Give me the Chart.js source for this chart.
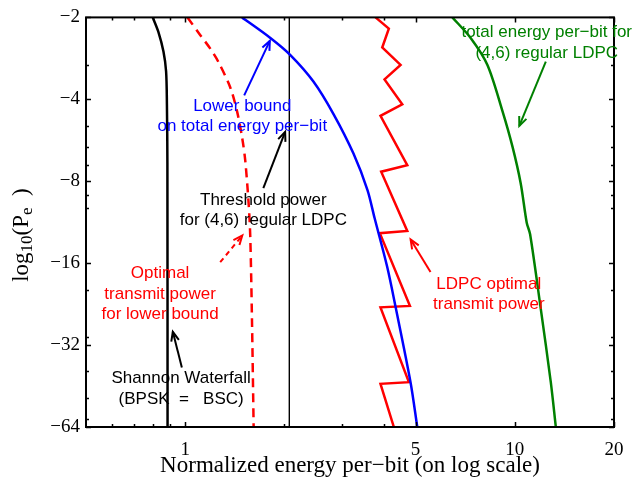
<!DOCTYPE html>
<html>
<head>
<meta charset="utf-8">
<script src="https://cdn.jsdelivr.net/npm/chart.js@4.4.1/dist/chart.umd.min.js"></script>
<style>
html, body { margin: 0; padding: 0; background: #fff; }
#wrap { width: 636px; height: 481px; }
</style>
</head>
<body>
<div id="wrap"><canvas id="chart" width="636" height="481"></canvas></div>
<script>
// ---------- data (x: normalized energy per-bit, y: log10(Pe)) ----------
const shannonX = [0.797, 0.829, 0.859, 0.875, 0.880, 0.883, 0.884];
const shannonY = [-2, -2.26, -2.67, -3.16, -4.17, -6.88, -64];

const optLowerX = [1.016, 1.11, 1.19, 1.26, 1.37, 1.436, 1.487, 1.521, 1.557, 1.575, 1.594, 1.613];
const optLowerY = [-2, -2.32, -2.6, -2.91, -3.62, -4.42, -5.49, -6.71, -9.61, -12.66, -25.5, -64];

const lowerBoundX = [1.487, 1.813, 2.085, 2.449, 2.818, 3.24, 3.573, 3.753, 4.10, 4.346, 4.828, 5.06];
const lowerBoundY = [-2, -2.38, -2.75, -3.44, -4.53, -6.33, -8.62, -10.9, -16.5, -23.1, -43.9, -64];

const ldpcPowerX = [3.779, 4.148, 3.961, 4.502, 4.025, 4.556, 3.913, 4.718, 3.932, 4.718, 3.895, 4.805, 3.913, 4.771, 3.913, 4.296];
const ldpcPowerY = [-2, -2.2, -2.58, -2.99, -3.38, -4.17, -4.6, -6.98, -7.38, -12.18, -12.42, -22.97, -23.25, -43.8, -44.4, -64];

const ldpcTotalX = [6.465, 7.347, 8.26, 9.17, 9.84, 10.42, 10.87, 11.13, 12.0, 12.86, 13.32];
const ldpcTotalY = [-2, -2.38, -2.99, -4.41, -5.97, -8.13, -11.36, -12.53, -23.7, -43.8, -64];

const thresholdX = [2.07, 2.07];
const thresholdY = [-2, -64];

// ticks
const xTickLabels = [1, 5, 10, 20];
const xMinorTicks = [0.6, 0.7, 0.8, 0.9, 2, 3, 4];
const yTickLabels = [-2, -4, -8, -16, -32, -64];
const yMinorTicks = [-3, -5, -6, -7, -9, -10, -20, -30, -40, -50, -60];

// ---------- helpers ----------
function pts(xs, ys) {
    return xs.map((x, i) => ({ x: x, y: -ys[i] }));
}

// text labels and arrows, in data coordinates
const notes = [
    { lines: ["Lower bound", "on total energy per\u2212bit"], x: 1.49, y: -4.24, color: "#0000ff" },
    { lines: ["Threshold power", "for (4,6) regular LDPC"], x: 1.726, y: -9.38, color: "#000000" },
    { lines: ["total energy per\u2212bit for", "(4,6) regular LDPC"], x: 12.5, y: -2.27, color: "#008000" },
    { lines: ["LDPC optimal", "transmit power"], x: 8.34, y: -19.06, color: "#ff0000" },
    { lines: ["Optimal", "transmit power", "for lower bound"], x: 0.839, y: -17.5, color: "#ff0000" },
    { lines: ["Shannon Waterfall", "(BPSK  =   BSC)"], x: 0.972, y: -42.5, color: "#000000" }
];

const arrows = [
    { from: [1.51, -3.87], to: [1.806, -2.44], color: "#0000ff", dash: [] },
    { from: [1.726, -8.48], to: [2.01, -5.27], color: "#000000", dash: [] },
    { from: [12.42, -2.91], to: [10.32, -5.01], color: "#008000", dash: [] },
    { from: [5.55, -17.25], to: [4.83, -13.1], color: "#ff0000", dash: [] },
    { from: [1.277, -15.87], to: [1.49, -12.66], color: "#ff0000", dash: [5, 4] },
    { from: [0.977, -38.7], to: [0.917, -28.6], color: "#000000", dash: [] }
];

const serif = "'Liberation Serif', 'Times New Roman', serif";
const sans = "'Liberation Sans', Arial, sans-serif";

// ---------- frame, ticks, labels ----------
const framePlugin = {
    id: "framePlugin",
    afterDatasetsDraw(chart) {
        const ctx = chart.ctx;
        const a = chart.chartArea;
        const xs = chart.scales.x;
        const ys = chart.scales.y;

        ctx.save();
        ctx.strokeStyle = "#000";
        ctx.lineWidth = 1.5;

        // tick marks on all four sides, pointing in
        function xTick(v, len) {
            const px = Math.round(xs.getPixelForValue(v)) + 0.5;
            ctx.beginPath();
            ctx.moveTo(px, a.bottom); ctx.lineTo(px, a.bottom - len);
            ctx.moveTo(px, a.top); ctx.lineTo(px, a.top + len);
            ctx.stroke();
        }
        function yTick(v, len) {
            const py = Math.round(ys.getPixelForValue(-v)) + 0.5;
            ctx.beginPath();
            ctx.moveTo(a.left, py); ctx.lineTo(a.left + len, py);
            ctx.moveTo(a.right, py); ctx.lineTo(a.right - len, py);
            ctx.stroke();
        }
        xTickLabels.forEach(v => xTick(v, 5));
        xMinorTicks.forEach(v => xTick(v, 3));
        yTickLabels.forEach(v => yTick(v, 5));
        yMinorTicks.forEach(v => yTick(v, 3));

        ctx.lineWidth = 2;
        ctx.strokeRect(a.left, a.top, a.right - a.left, a.bottom - a.top);

        // arrows
        arrows.forEach(ar => {
            const x0 = xs.getPixelForValue(ar.from[0]), y0 = ys.getPixelForValue(-ar.from[1]);
            const x1 = xs.getPixelForValue(ar.to[0]), y1 = ys.getPixelForValue(-ar.to[1]);
            const ang = Math.atan2(y1 - y0, x1 - x0);
            ctx.strokeStyle = ar.color;
            ctx.lineWidth = 2;
            ctx.setLineDash(ar.dash);
            ctx.beginPath();
            ctx.moveTo(x0, y0); ctx.lineTo(x1, y1);
            ctx.stroke();
            ctx.setLineDash([]);
            ctx.beginPath();
            ctx.moveTo(x1 - 10 * Math.cos(ang - 0.4), y1 - 10 * Math.sin(ang - 0.4));
            ctx.lineTo(x1, y1);
            ctx.lineTo(x1 - 10 * Math.cos(ang + 0.4), y1 - 10 * Math.sin(ang + 0.4));
            ctx.stroke();
        });

        // text notes
        ctx.font = "17px " + sans;
        ctx.textAlign = "center";
        ctx.textBaseline = "middle";
        notes.forEach(n => {
            const px = xs.getPixelForValue(n.x), py = ys.getPixelForValue(-n.y);
            ctx.fillStyle = n.color;
            n.lines.forEach((t, i) => ctx.fillText(t, px, py + i * 20.5));
        });

        // x title
        ctx.fillStyle = "#000";
        ctx.font = "23px " + serif;
        ctx.fillText("Normalized energy per\u2212bit (on log scale)", (a.left + a.right) / 2, 466);

        // y title with subscripts
        const parts = [
            { t: "log", f: "23px " + serif, dy: 0 },
            { t: "10", f: "17px " + serif, dy: 6 },
            { t: "(P", f: "23px " + serif, dy: 0 },
            { t: "e", f: "17px " + serif, dy: 6 },
            { t: "  )", f: "23px " + serif, dy: 0 }
        ];
        let total = 0;
        parts.forEach(p => { ctx.font = p.f; p.w = ctx.measureText(p.t).width; total += p.w; });
        ctx.translate(22, 235);
        ctx.rotate(-Math.PI / 2);
        ctx.textAlign = "left";
        let cx = -total / 2;
        parts.forEach(p => {
            ctx.font = p.f;
            ctx.fillText(p.t, cx, p.dy);
            cx += p.w;
        });
        ctx.restore();
    }
};

// ---------- chart ----------
new Chart(document.getElementById("chart"), {
    type: "scatter",
    data: {
        datasets: [
            { label: "Lower bound", data: pts(lowerBoundX, lowerBoundY), borderColor: "#0000ff", borderWidth: 2.5, tension: 0.3 },
            { label: "LDPC optimal transmit power", data: pts(ldpcPowerX, ldpcPowerY), borderColor: "#ff0000", borderWidth: 2.5, tension: 0 },
            { label: "Total energy LDPC", data: pts(ldpcTotalX, ldpcTotalY), borderColor: "#008000", borderWidth: 2.5, tension: 0.3 },
            { label: "Optimal power lower bound", data: pts(optLowerX, optLowerY), borderColor: "#ff0000", borderWidth: 2.5, borderDash: [9, 6], tension: 0.3 },
            { label: "Shannon waterfall", data: pts(shannonX, shannonY), borderColor: "#000000", borderWidth: 2.5, tension: 0.3 },
            { label: "Threshold", data: pts(thresholdX, thresholdY), borderColor: "#000000", borderWidth: 1, tension: 0 }
        ].map(d => Object.assign(d, { showLine: true, pointRadius: 0, fill: false }))
    },
    options: {
        responsive: false,
        animation: false,
        devicePixelRatio: 1,
        layout: { padding: { left: 0, right: 22, top: 12, bottom: 0 } },
        plugins: { legend: { display: false }, tooltip: { enabled: false } },
        scales: {
            x: {
                type: "logarithmic",
                min: 0.5,
                max: 20,
                grid: { display: false, drawTicks: false },
                border: { display: false },
                ticks: {
                    color: "#000",
                    font: { family: serif, size: 19 },
                    padding: 12,
                    maxRotation: 0,
                    autoSkip: false,
                    callback: v => String(v)
                },
                afterBuildTicks: s => { s.ticks = xTickLabels.map(v => ({ value: v })); },
                afterFit: s => { s.height = 54; }
            },
            y: {
                type: "logarithmic",
                reverse: true,
                min: 2,
                max: 64,
                grid: { display: false, drawTicks: false },
                border: { display: false },
                ticks: {
                    color: "#000",
                    font: { family: serif, size: 19 },
                    padding: 6,
                    autoSkip: false,
                    callback: v => "\u2212" + v
                },
                afterBuildTicks: s => { s.ticks = yTickLabels.map(v => ({ value: -v })); },
                afterFit: s => { s.width = 86; }
            }
        }
    },
    plugins: [framePlugin]
});
</script>
</body>
</html>
